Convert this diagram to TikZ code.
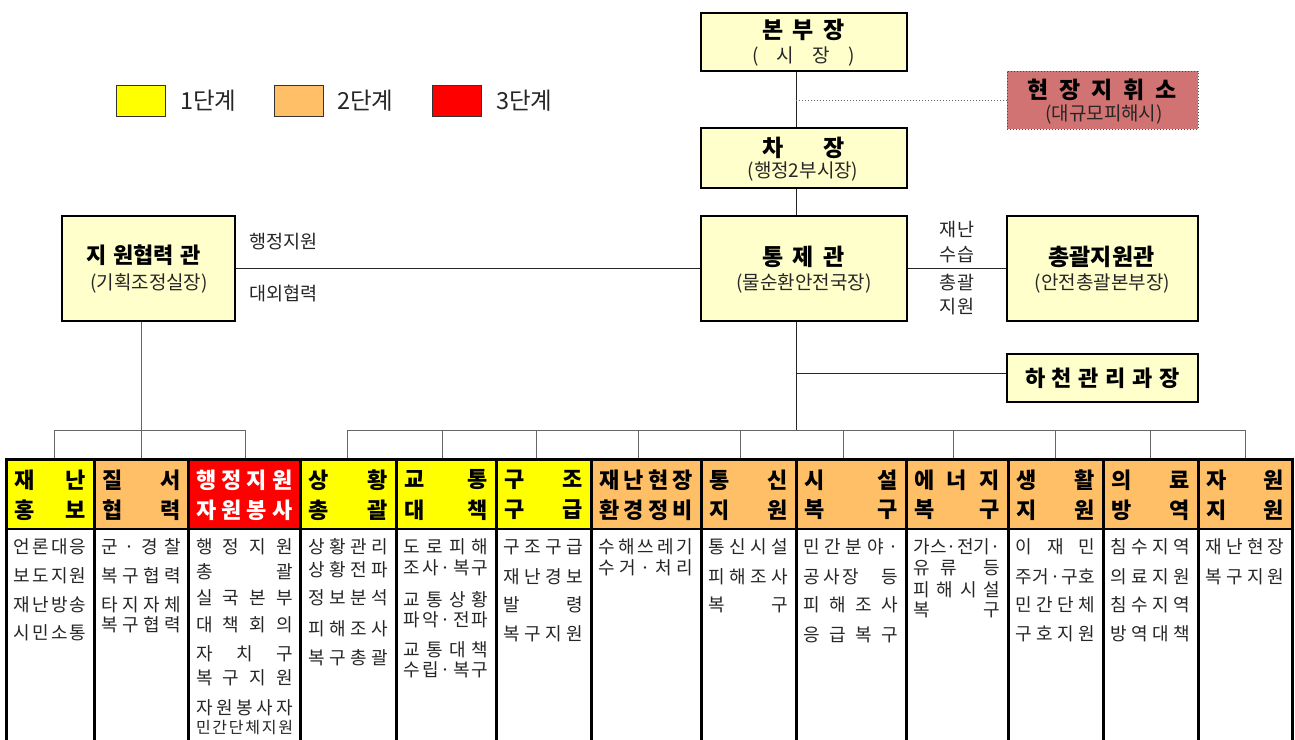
\documentclass[tikz,border=0pt]{standalone}
\usepackage{fontspec}
\setmainfont{Noto Sans CJK KR}
\definecolor{lyel}{HTML}{FFFFCC}
\definecolor{yel}{HTML}{FFFF00}
\definecolor{org}{HTML}{FFBF66}
\definecolor{rose}{HTML}{D27373}
\definecolor{txt}{HTML}{262626}
\def\sprx#1{\ifx#1\relax\else\hfill#1\expandafter\sprx\fi}
\def\spr#1{\sprfirst#1\relax}
\def\sprfirst#1{#1\sprx}
\newcommand\jb[2]{\hbox to #1pt{#2}}
\newcommand\hdr[7]{%
  \pgfmathsetmacro\cx{(#2+#3)/2}%
  \pgfmathsetmacro\cw{#3-#2}%
  \pgfmathsetmacro\tw{#3-#2-16}%
  \node[hcell, fill=#4, minimum width=\cw pt] (#1) at (\cx,494) {};
  \node[htext, text=#5] (#1a) at (\cx,480) {\hbox to \tw pt{\spr{#6}}};
  \node[htext, text=#5] (#1b) at (\cx,510) {\hbox to \tw pt{\spr{#7}}};
}
\newcommand\cl[5]{%
  \pgfmathsetmacro\cx{(#2+#3)/2}%
  \pgfmathsetmacro\tw{#3-#2-15}%
  \node[ctext] (#1) at (\cx,#4) {\hbox to \tw pt{#5}};
}
\begin{document}
\begin{tikzpicture}[x=1pt,y=-1pt,
  topbox/.style={draw=black, line width=2.4pt, fill=lyel, inner sep=0pt},
  ttl/.style={inner sep=0pt, font=\fontsize{23}{23}\selectfont\bfseries},
  sub/.style={inner sep=0pt, font=\fontsize{19}{19}\selectfont, text=txt},
  lbl/.style={inner sep=0pt, font=\fontsize{18.5}{18.5}\selectfont, text=txt},
  leg/.style={draw=black!80, line width=0.8pt, minimum width=49pt, minimum height=31pt, inner sep=0pt},
  legt/.style={inner sep=0pt, anchor=west, font=\fontsize{23.5}{23.5}\selectfont, text=txt},
  hcell/.style={draw=none, minimum height=70pt, inner sep=0pt},
  htext/.style={inner sep=0pt, font=\fontsize{22}{22}\selectfont\bfseries},
  ctext/.style={inner sep=0pt, font=\fontsize{18}{18}\selectfont, text=txt},
  conn/.style={draw=black!85, line width=1pt},
  bus/.style={draw=black!60, line width=1pt},
  colline/.style={draw=black, line width=3pt},
]
\useasboundingbox[fill=white] (0,0) rectangle (1295,739);

% legend
\node[leg, fill=yel] (l1) at (140.5,100.5) {};
\node[leg, fill=org] (l2) at (299,100.5) {};
\node[leg, fill=red] (l3) at (457,100.5) {};
\node[legt] (l1t) at (180,101) {1단계};
\node[legt] (l2t) at (337,101) {2단계};
\node[legt] (l3t) at (496,101) {3단계};

% top boxes
\node[topbox, minimum width=206pt, minimum height=58pt] (bb) at (804,42) {};
\node[topbox, minimum width=206pt, minimum height=60pt] (cj) at (804,158) {};
\node[topbox, minimum width=206pt, minimum height=105pt] (tj) at (804,268.5) {};
\node[draw=black!70, dotted, line width=1pt, fill=rose, minimum width=191pt, minimum height=58pt, inner sep=0pt] (hj) at (1102.5,100) {};
\node[topbox, minimum width=191pt, minimum height=105pt] (cg) at (1102.5,268.5) {};
\node[topbox, minimum width=191pt, minimum height=48pt] (hc) at (1102.5,378) {};
\node[topbox, minimum width=173pt, minimum height=105pt] (jw) at (148.5,268.5) {};

\node[ttl] (bbt) at (803.5,30) {\jb{83}{\spr{본부장}}};
\node[sub] (bbs) at (803.5,57) {\jb{103}{\spr{(시장)}}};
\node[ttl] (cjt) at (803.5,148) {\jb{83}{\spr{차장}}};
\node[sub] (cjs) at (803,172) {(행정2부시장)};
\node[ttl] (tjt) at (803.5,257) {\jb{83}{\spr{통제관}}};
\node[sub] (tjs) at (804,283) {(물순환안전국장)};
\node[ttl] (hjt) at (1102,90) {\jb{150}{\spr{현장지휘소}}};
\node[sub] (hjs) at (1104,115) {(대규모피해시)};
\node[ttl] (cgt) at (1101.5,257) {총괄지원관};
\node[sub] (cgs) at (1102.5,283) {(안전총괄본부장)};
\node[ttl, font=\fontsize{22}{22}\selectfont\bfseries] (hct) at (1102.5,378) {\jb{155}{\spr{하천관리과장}}};
\node[ttl, font=\fontsize{22}{22}\selectfont\bfseries] (jwt) at (143.5,255) {\jb{115}{지\hfill 원협력\hfill 관}};
\node[sub] (jws) at (149,283) {(기획조정실장)};

% connectors
\coordinate (tx) at (796,0);
\coordinate (jx) at (141,0);
\coordinate (busL) at (54,430);
\coordinate (busR) at (347,430);
\draw[conn] (bb.south -| tx) -- (cj.north -| tx);
\draw[conn] (cj.south -| tx) -- (tj.north -| tx);
\draw[conn] (tj.south -| tx) -- (tx |- busR);
\draw[dotted, draw=black!60, line width=1pt] (tx |- hj.west) -- (hj.west);
\draw[conn] (tj.east) -- (cg.west);
\draw[conn] (jw.east) -- (tj.west);
\draw[conn] ([yshift=5pt]hc.west -| tx) -- ([yshift=5pt]hc.west);
\draw[bus] (jw.south -| jx) -- (jx |- busL);

\node[lbl, anchor=west] (e1) at (249,242) {행정지원};
\node[lbl, anchor=west] (e2) at (249,294) {대외협력};
\node[lbl] (e3) at (957,230) {재난};
\node[lbl] (e4) at (957,255) {수습};
\node[lbl] (e5) at (957,283) {총괄};
\node[lbl] (e6) at (957,307) {지원};

% buses
\draw[bus] (busL) -- (245,430);
\draw[bus] (busR) -- (1245,430);
\foreach \x in {54,141,245,347,442,536,638,740,843,953,1055,1150,1245}
  \draw[bus] (\x,430) -- (\x,459);

% column headers
\hdr{h1}{6}{94}{yel}{black}{재난}{홍보}
\hdr{h2}{94}{188.5}{org}{black}{질서}{협력}
\hdr{h3}{188.5}{300.5}{red}{white}{행정지원}{자원봉사}
\hdr{h4}{300.5}{396}{yel}{black}{상황}{총괄}
\hdr{h5}{396}{496}{yel}{black}{교통}{대책}
\hdr{h6}{496}{591}{yel}{black}{구조}{구급}
\hdr{h7}{591}{701}{org}{black}{재난현장}{환경정비}
\hdr{h8}{701}{796}{org}{black}{통신}{지원}
\hdr{h9}{796}{906}{org}{black}{시설}{복구}
\hdr{h10}{906}{1008}{org}{black}{에너지}{복구}
\hdr{h11}{1008}{1103}{org}{black}{생활}{지원}
\hdr{h12}{1103}{1198}{org}{black}{의료}{방역}
\hdr{h13}{1198}{1292}{org}{black}{자원}{지원}

% column lines
\draw[colline] (6,459) -- (1292,459);
\draw[draw=black, line width=1.6pt] (6,529) -- (1292,529);
\foreach \b in {6,94,188.5,300.5,396,496,591,701,796,906,1008,1103,1198,1292}
  \draw[colline] (\b,457.5) -- (\b,745);

% contents
\cl{a1}{6}{94}{547}{\spr{언론대응}}
\cl{a2}{6}{94}{576}{\spr{보도지원}}
\cl{a3}{6}{94}{605}{\spr{재난방송}}
\cl{a4}{6}{94}{633}{\spr{시민소통}}

\cl{b1}{94}{188.5}{547}{\spr{군·경찰}}
\cl{b2}{94}{188.5}{576}{\spr{복구협력}}
\cl{b3}{94}{188.5}{605}{\spr{타지자체}}
\cl{b4}{94}{188.5}{625}{\spr{복구협력}}

\cl{c1}{188.5}{300.5}{547}{\spr{행정지원}}
\cl{c2}{188.5}{300.5}{572}{\spr{총괄}}
\cl{c3}{188.5}{300.5}{598}{\spr{실국본부}}
\cl{c4}{188.5}{300.5}{625}{\spr{대책회의}}
\cl{c5}{188.5}{300.5}{654}{\spr{자치구}}
\cl{c6}{188.5}{300.5}{678}{\spr{복구지원}}
\cl{c7}{188.5}{300.5}{708}{\spr{자원봉사자}}
\cl{c8}{188.5}{300.5}{727}{\fontsize{16}{16}\selectfont\spr{민간단체지원}}

\cl{d1}{300.5}{396}{547}{\spr{상황관리}}
\cl{d2}{300.5}{396}{570}{\spr{상황전파}}
\cl{d3}{300.5}{396}{598}{\spr{정보분석}}
\cl{d4}{300.5}{396}{629}{\spr{피해조사}}
\cl{d5}{300.5}{396}{658}{\spr{복구총괄}}

\cl{e1}{396}{496}{547}{\spr{도로피해}}
\cl{e2}{396}{496}{568}{\spr{조사·복구}}
\cl{e3}{396}{496}{600}{\spr{교통상황}}
\cl{e4}{396}{496}{620}{\spr{파악·전파}}
\cl{e5}{396}{496}{650}{\spr{교통대책}}
\cl{e6}{396}{496}{670}{\spr{수립·복구}}

\cl{f1}{496}{591}{547}{\spr{구조구급}}
\cl{f2}{496}{591}{577}{\spr{재난경보}}
\cl{f3}{496}{591}{605}{\spr{발령}}
\cl{f4}{496}{591}{634}{\spr{복구지원}}

\cl{g1}{591}{701}{547}{\spr{수해쓰레기}}
\cl{g2}{591}{701}{568}{\spr{수거·처리}}

\cl{i1}{701}{796}{547}{\spr{통신시설}}
\cl{i2}{701}{796}{577}{\spr{피해조사}}
\cl{i3}{701}{796}{605}{\spr{복구}}

\cl{j1}{796}{906}{547}{\spr{민간분야·}}
\cl{j2}{796}{906}{577}{공\,사\,장\hfill 등}
\cl{j3}{796}{906}{605}{\spr{피해조사}}
\cl{j4}{796}{906}{635}{\spr{응급복구}}

\cl{k1}{906}{1008}{547}{\spr{가스·전기·}}
\cl{k2}{906}{1008}{568}{유\hspace{10pt}류\hfill 등}
\cl{k3}{906}{1008}{590}{\spr{피해시설}}
\cl{k4}{906}{1008}{610}{\spr{복구}}

\cl{m1}{1008}{1103}{547}{\spr{이재민}}
\cl{m2}{1008}{1103}{577}{\spr{주거·구호}}
\cl{m3}{1008}{1103}{605}{\spr{민간단체}}
\cl{m4}{1008}{1103}{634}{\spr{구호지원}}

\cl{n1}{1103}{1198}{547}{\spr{침수지역}}
\cl{n2}{1103}{1198}{577}{\spr{의료지원}}
\cl{n3}{1103}{1198}{605}{\spr{침수지역}}
\cl{n4}{1103}{1198}{634}{\spr{방역대책}}

\cl{o1}{1198}{1292}{547}{\spr{재난현장}}
\cl{o2}{1198}{1292}{577}{\spr{복구지원}}
\end{tikzpicture}
\end{document}
